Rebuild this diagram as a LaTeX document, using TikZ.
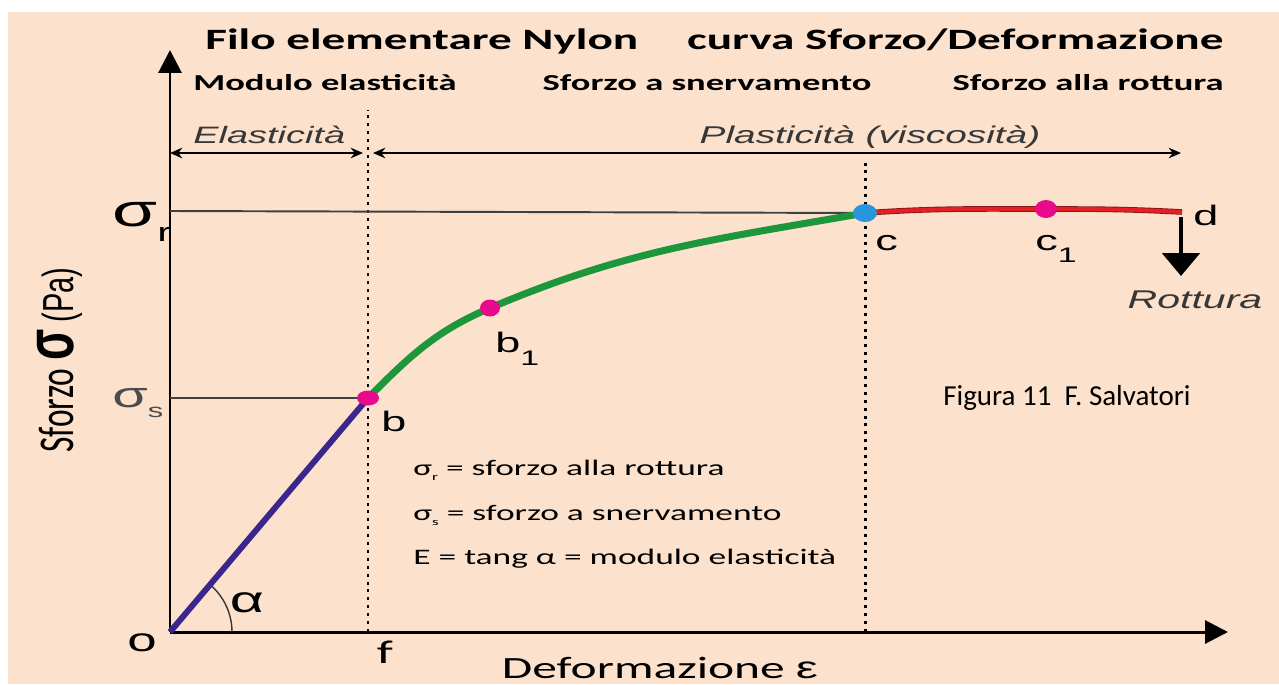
\documentclass[tikz,border=0pt]{standalone}
\usepackage{fontspec}
\usepackage{graphicx}
\setmainfont{Carlito}
\newfontfamily\largo[FakeStretch=1.6]{Carlito}
\newfontfamily\arialargo[FakeStretch=1.6]{Liberation Sans}
\newfontfamily\arial{Liberation Sans}
\newcommand{\fsz}[1]{\fontsize{#1}{#1}\selectfont}
\usetikzlibrary{arrows.meta,shapes.geometric}

\definecolor{sfondo}{RGB}{252,225,204}
\definecolor{viola}{RGB}{58,38,140}
\definecolor{verde}{RGB}{30,150,60}
\definecolor{rosso}{RGB}{228,32,36}
\definecolor{rossoscuro}{RGB}{140,20,20}
\definecolor{fucsia}{RGB}{232,10,140}
\definecolor{azzurro}{RGB}{40,150,220}
\definecolor{grigio}{RGB}{55,55,55}

\tikzset{asse/.style = {line width=1.7pt, -{Triangle[width=13pt,length=13pt]}},
         freccia/.style = {line width=0.9pt, {Stealth[length=7pt,width=6pt]}-{Stealth[length=7pt,width=6pt]}},
         griglia/.style = {line width=1.1pt, black!75},
         puntini/.style = {line width=1.7pt, dash pattern=on 1.7pt off 2.8pt},
         punto/.style = {ellipse, fill=#1, inner sep=0pt, minimum width=0.44cm, minimum height=0.32cm},
         punto/.default = fucsia
        }

\begin{document}
\begin{tikzpicture}[x=0.02cm,y=-0.02cm]
\tikzstyle{every node}=[inner sep=0pt]
\useasboundingbox (0,0) rectangle (1279,684);
\fill[white] (0,0) rectangle (1279,684);
\fill[sfondo] (8,12) rectangle (1279,684);

% titoli
\node[anchor=base west] (tit1) at (205,49) {\largo\bfseries\fsz{16.8}Filo elementare Nylon};
\node[anchor=base east] (tit2) at (1224,49) {\largo\bfseries\fsz{16.8}curva Sforzo/Deformazione};
\node[anchor=base west] (mod) at (193,90) {\largo\bfseries\fsz{13}Modulo elasticità};
\node[anchor=base east] (sne) at (872,90) {\largo\bfseries\fsz{13}Sforzo a snervamento};
\node[anchor=base east] (rot) at (1224,90) {\largo\bfseries\fsz{13}Sforzo alla rottura};

% assi
\coordinate (o) at (170,632);
\coordinate (xmax) at (1228,632);
\coordinate (ymax) at (170,50);
\draw[asse] (o) -- (xmax);
\draw[asse] (o) -- (ymax);

% zone elastica / plastica
\coordinate (e0) at (170,153);
\coordinate (e1) at (363,153);
\coordinate (p0) at (373,153);
\coordinate (p1) at (1181,153);
\draw[freccia] (e0) -- (e1);
\draw[freccia] (p0) -- (p1);
\node[anchor=base west, text=grigio] (ela) at (193,143) {\arialargo\itshape\fsz{13.5}Elasticità};
\node[anchor=base, text=grigio] (pla) at (870,143) {\arialargo\itshape\fsz{13.8}Plasticità (viscosità)};

% punti della curva
\coordinate (pb) at (368,398);
\coordinate (pb1) at (490,308);
\coordinate (pc) at (865,213);
\coordinate (pc1) at (1046,209);
\coordinate (pd) at (1182,212);
\coordinate (f) at (368,632);
\coordinate (ftop) at (368,110);
\coordinate (g) at (865,632);
\coordinate (gtop) at (865,160);
\coordinate (sr) at (170,211);
\coordinate (ss) at (170,398);

\draw[puntini] (f) -- (ftop);
\draw[puntini] (g) -- (gtop);
\draw[griglia] (sr) -- (pc);
\draw[griglia] (ss) -- (pb);

% curva sforzo/deformazione
\draw[grigio, line width=0.8pt] (o) ++(62,0) arc (0:-49.8:62);
\draw[line width=3.4pt, viola] (o) -- (pb);
\draw[line width=4pt, verde] (pb) to[out=45,in=203] (pb1) to[out=23,in=190] (pc);
\draw[line width=3.2pt, rossoscuro] (pc) to[out=4,in=180] (pc1) to[out=0,in=177] (pd);
\draw[line width=2.2pt, rosso] (pc) to[out=4,in=180] (pc1) to[out=0,in=177] (pd);

\node[punto, minimum height=0.3cm] (b) at (pb) {};
\node[punto, minimum width=0.4cm, minimum height=0.34cm] (b1) at (pb1) {};
\node[punto=azzurro, minimum width=0.48cm, minimum height=0.36cm] (c) at (pc) {};
\node[punto, minimum height=0.36cm] (c1) at (pc1) {};

% etichette
\node[anchor=base west] (ssr) at (112,226) {\arialargo\fsz{26}σ\raisebox{-9pt}{\fsz{15}r}};
\node[anchor=base west, text=black!70] (sss) at (112,407) {\arialargo\fsz{20.5}σ\raisebox{-5.7pt}{\fsz{11}s}};
\node[rotate=90] (ylab) at (60,360) {\scalebox{1}[1.5]{\fsz{19}Sforzo {\arial\bfseries\fsz{26}σ} {\arial\fsz{16.5}(Pa)}}};
\node (lb) at (394,421) {\arialargo\fsz{16}b};
\node[anchor=base west] (lb1) at (495,352) {\arialargo\fsz{16}b\raisebox{-7.4pt}{\fsz{12}1}};
\node[anchor=base west] (lc) at (875,250) {\arialargo\fsz{16}c};
\node[anchor=base west] (lc1) at (1035,250) {\arialargo\fsz{16}c\raisebox{-7pt}{\fsz{12}1}};
\node[anchor=base west] (ld) at (1193,225) {\arialargo\fsz{16}d};
\node (lo) at (142,643) {\arialargo\fsz{18.8}o};
\node (lf) at (385,652) {\largo\fsz{18.7}f};
\node (alfa) at (247,603) {\arialargo\fsz{21}α};
\node[anchor=base] (def) at (660,678) {\largo\fsz{17.6}Deformazione {\arialargo ε}};

% rottura
\coordinate (dtop) at (1181,217);
\coordinate (dtip) at (1181,276);
\draw[line width=2.8pt, -{Triangle[width=21pt,length=13pt]}] (dtop) -- (dtip);
\node[text=grigio] (lrot) at (1195,300) {\arialargo\itshape\fsz{14.6}Rottura};

% legenda
\node[anchor=base west] (leg1) at (413,475) {\largo\fsz{12.6}σ\raisebox{-3pt}{\fsz{6}r} = sforzo alla rottura};
\node[anchor=base west] (leg2) at (413,520) {\largo\fsz{12.6}σ\raisebox{-3pt}{\fsz{6}s} = sforzo a snervamento};
\node[anchor=base west] (leg3) at (413,564) {\largo\fsz{12.6}E = tang α = modulo elasticità};

\node (fig) at (1067,398) {\fsz{16.5}Figura 11\ \ F. Salvatori};
\end{tikzpicture}
\end{document}
